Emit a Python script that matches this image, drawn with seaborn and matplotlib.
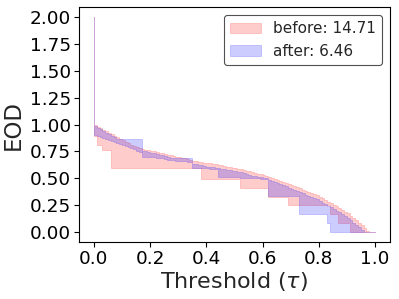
import numpy as np
import matplotlib
matplotlib.use("Agg")
import matplotlib.pyplot as plt
import seaborn as sns

# ---- data ----
thresholds = np.linspace(0.0, 1.0, 101)

before_upper = [
    2.00, 1.00, 0.98, 0.965, 0.95, 0.94, 0.925, 0.91, 0.895, 0.885,
    0.87, 0.855, 0.84, 0.825, 0.81, 0.80, 0.79, 0.78, 0.775, 0.765,
    0.76, 0.755, 0.75, 0.745, 0.74, 0.735, 0.73, 0.72, 0.715, 0.71,
    0.70, 0.695, 0.69, 0.685, 0.68, 0.67, 0.665, 0.66, 0.655, 0.65,
    0.645, 0.64, 0.64, 0.635, 0.63, 0.625, 0.62, 0.615, 0.61, 0.605,
    0.60, 0.595, 0.59, 0.585, 0.58, 0.57, 0.565, 0.555, 0.55, 0.545,
    0.54, 0.535, 0.525, 0.515, 0.505, 0.495, 0.485, 0.475, 0.465, 0.46,
    0.45, 0.44, 0.43, 0.42, 0.41, 0.395, 0.385, 0.375, 0.365, 0.355,
    0.345, 0.33, 0.315, 0.30, 0.285, 0.27, 0.255, 0.24, 0.225, 0.21,
    0.19, 0.175, 0.155, 0.135, 0.11, 0.09, 0.065, 0.04, 0.015, 0.0,
    0.0]

before_lower = [
    2.00, 0.89, 0.81, 0.81, 0.76, 0.76, 0.76, 0.60, 0.60, 0.60,
    0.60, 0.60, 0.60, 0.60, 0.60, 0.60, 0.60, 0.60, 0.60, 0.60,
    0.60, 0.60, 0.60, 0.60, 0.60, 0.60, 0.60, 0.60, 0.60, 0.60,
    0.60, 0.60, 0.60, 0.60, 0.60, 0.60, 0.60, 0.60, 0.60, 0.495,
    0.495, 0.495, 0.495, 0.495, 0.495, 0.495, 0.495, 0.495, 0.495, 0.495,
    0.495, 0.495, 0.495, 0.415, 0.415, 0.415, 0.415, 0.415, 0.415, 0.415,
    0.415, 0.415, 0.415, 0.33, 0.33, 0.33, 0.33, 0.33, 0.33, 0.33,
    0.25, 0.25, 0.25, 0.25, 0.25, 0.25, 0.25, 0.25, 0.25, 0.25,
    0.25, 0.25, 0.25, 0.25, 0.25, 0.165, 0.165, 0.165, 0.083, 0.083,
    0.083, 0.083, 0.0, 0.0, 0.0, 0.0, 0.0, 0.0, 0.0, 0.0,
    0.0]

after_upper = [
    2.00, 0.99, 0.97, 0.955, 0.94, 0.925, 0.91, 0.895, 0.88, 0.87,
    0.87, 0.87, 0.87, 0.87, 0.87, 0.87, 0.87, 0.87, 0.755, 0.75,
    0.745, 0.74, 0.735, 0.73, 0.72, 0.715, 0.705, 0.695, 0.69, 0.69,
    0.69, 0.69, 0.69, 0.69, 0.69, 0.69, 0.635, 0.63, 0.625, 0.62,
    0.615, 0.61, 0.61, 0.605, 0.60, 0.595, 0.59, 0.585, 0.58, 0.575,
    0.57, 0.565, 0.56, 0.555, 0.55, 0.54, 0.535, 0.525, 0.52, 0.515,
    0.51, 0.505, 0.50, 0.485, 0.475, 0.465, 0.455, 0.445, 0.435, 0.425,
    0.415, 0.405, 0.395, 0.385, 0.375, 0.36, 0.35, 0.34, 0.33, 0.32,
    0.305, 0.29, 0.275, 0.26, 0.245, 0.23, 0.215, 0.20, 0.185, 0.17,
    0.15, 0.13, 0.11, 0.09, 0.07, 0.05, 0.025, 0.005, 0.0, 0.0,
    0.0]

after_lower = [
    2.00, 0.90, 0.89, 0.88, 0.875, 0.865, 0.855, 0.845, 0.84, 0.83,
    0.82, 0.81, 0.80, 0.79, 0.78, 0.77, 0.755, 0.745, 0.70, 0.70,
    0.70, 0.70, 0.695, 0.69, 0.69, 0.685, 0.68, 0.675, 0.67, 0.67,
    0.665, 0.665, 0.66, 0.66, 0.655, 0.655, 0.60, 0.60, 0.595, 0.595,
    0.595, 0.595, 0.59, 0.59, 0.59, 0.51, 0.51, 0.51, 0.51, 0.51,
    0.51, 0.51, 0.51, 0.50, 0.50, 0.50, 0.50, 0.50, 0.50, 0.50,
    0.495, 0.495, 0.495, 0.335, 0.335, 0.335, 0.335, 0.335, 0.335, 0.335,
    0.335, 0.335, 0.335, 0.335, 0.167, 0.167, 0.167, 0.167, 0.167, 0.167,
    0.167, 0.167, 0.167, 0.167, 0.083, 0.0, 0.0, 0.0, 0.0, 0.0,
    0.0, 0.0, 0.0, 0.0, 0.0, 0.0, 0.0, 0.0, 0.0, 0.0,
    0.0]

series_labels = ["before: 14.71", "after: 6.46"]
series_colors = ["red", "blue"]
x_label = r"Threshold ($\tau$)"
y_label = "EOD"
x_ticks = [0.0, 0.2, 0.4, 0.6, 0.8, 1.0]
y_ticks = [0.0, 0.25, 0.5, 0.75, 1.0, 1.25, 1.5, 1.75, 2.0]

# ---- style ----
sns.set_theme(style="ticks", rc={
    "axes.edgecolor": "black",
    "axes.linewidth": 0.8,
    "xtick.major.size": 3.5,
    "ytick.major.size": 3.5,
    "xtick.major.width": 0.8,
    "ytick.major.width": 0.8,
    "xtick.color": "black",
    "ytick.color": "black",
})
plt.rcParams["font.family"] = ["DejaVu Sans"]

fig, ax = plt.subplots(figsize=(3.99, 2.99), dpi=100)
fig.subplots_adjust(left=0.198, right=0.977, top=0.975, bottom=0.191)

bands = [(before_lower, before_upper), (after_lower, after_upper)]
for (lo, hi), lab, col in zip(bands, series_labels, series_colors):
    ax.fill_between(thresholds, lo, hi, step="pre", color=col, alpha=0.2,
                    linewidth=0.6, label=lab)

ax.set_xticks(x_ticks)
ax.set_xticklabels([f"{v:.1f}" for v in x_ticks])
ax.set_yticks(y_ticks)
ax.set_yticklabels([f"{v:.2f}" for v in y_ticks])
ax.tick_params(axis="both", labelsize=13.3, pad=2)
ax.set_xlabel(x_label, fontsize=16, labelpad=2)
ax.set_ylabel(y_label, fontsize=16.5, labelpad=4)
ax.set_xlim(-0.053, 1.053)
ax.set_ylim(-0.09, 2.087)

leg = ax.legend(loc="upper right", fontsize=11, frameon=True, fancybox=True)
leg.get_frame().set_edgecolor("0.15")
leg.get_frame().set_linewidth(0.8)

for s in ax.spines.values():
    s.set_visible(True)

fig.savefig("out.png", dpi=100)
